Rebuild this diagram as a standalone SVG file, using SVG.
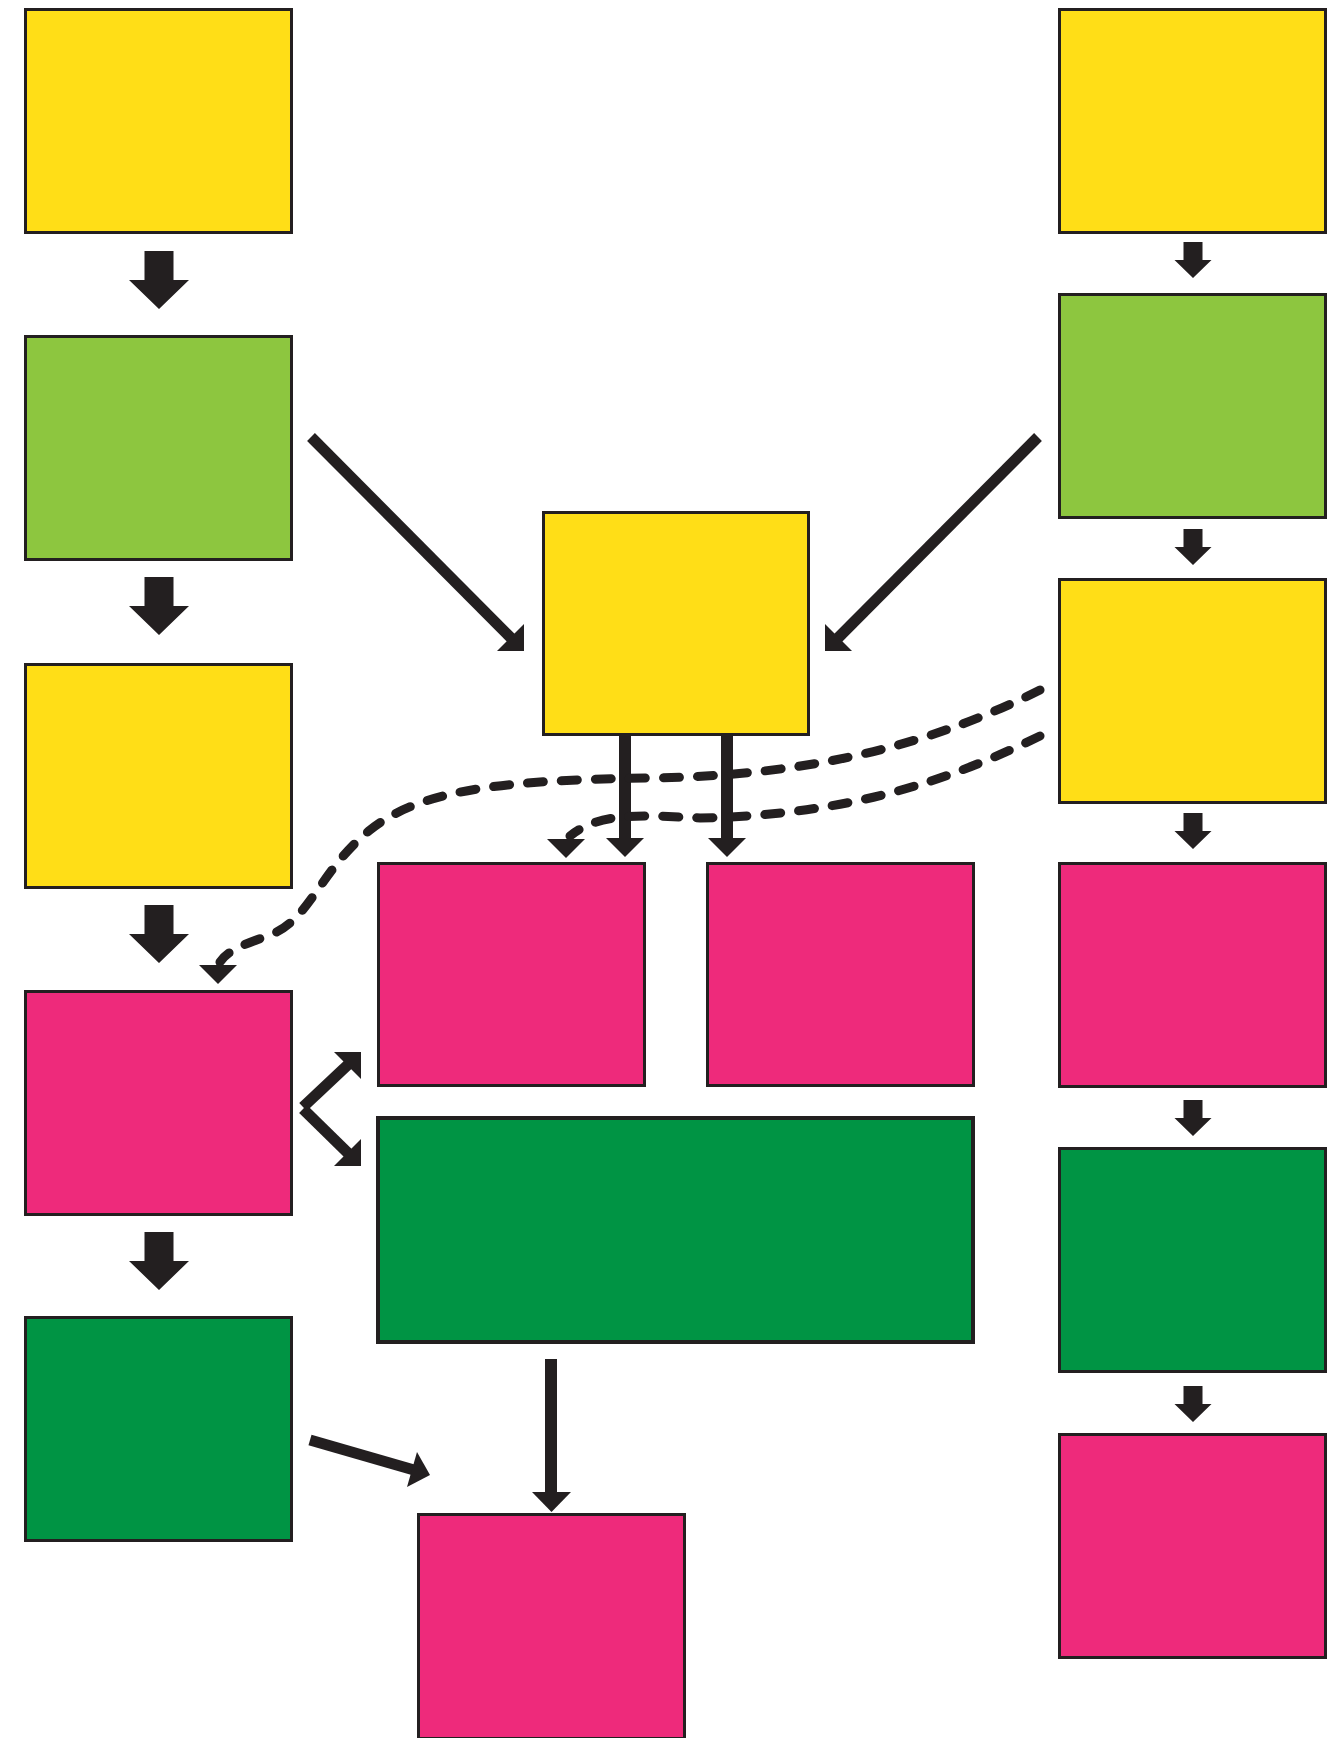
<svg xmlns="http://www.w3.org/2000/svg" xmlns:xlink="http://www.w3.org/1999/xlink" width="1343" height="1738" viewBox="0 0 1343 1738">
<style>
.box{stroke:#231F20;stroke-width:3}
.y{fill:#FFDE17}
.lg{fill:#8DC63F}
.p{fill:#EE2A7B}
.dg{fill:#009444}
.ar{fill:#231F20}
.ln{stroke:#231F20;fill:none}
.dash{stroke:#231F20;fill:none;stroke-width:9;stroke-linecap:round;stroke-dasharray:16 18}
</style>
<defs>
<polygon id="bigArrow" points="-14.5,0 14.5,0 14.5,29 30,29 0,58 -30,29 -14.5,29" fill="#231F20"/>
<polygon id="smallArrow" points="-9.5,0 9.5,0 9.5,18 18.5,18 0,36 -18.5,18 -9.5,18" fill="#231F20"/>
</defs>
<rect width="1343" height="1738" fill="#FFFFFF"/>
<g id="left-col">
<g id="L1"><rect class="box y" x="25.5" y="9.5" width="266" height="223"/></g>
<g id="L2"><rect class="box lg" x="25.5" y="336.5" width="266" height="223"/></g>
<g id="L3"><rect class="box y" x="25.5" y="664.5" width="266" height="223"/></g>
<g id="L4"><rect class="box p" x="25.5" y="991.5" width="266" height="223"/></g>
<g id="L5"><rect class="box dg" x="25.5" y="1317.5" width="266" height="223"/></g>
</g>
<g id="right-col">
<g id="R1"><rect class="box y" x="1059.5" y="9.5" width="266" height="223"/></g>
<g id="R2"><rect class="box lg" x="1059.5" y="294.5" width="266" height="223"/></g>
<g id="R3"><rect class="box y" x="1059.5" y="579.5" width="266" height="223"/></g>
<g id="R4"><rect class="box p" x="1059.5" y="863.5" width="266" height="223"/></g>
<g id="R5"><rect class="box dg" x="1059.5" y="1148.5" width="266" height="223"/></g>
<g id="R6"><rect class="box p" x="1059.5" y="1434.5" width="266" height="223"/></g>
</g>
<g id="center">
<g id="C1"><rect class="box y" x="543.5" y="512.5" width="265" height="222"/></g>
<g id="C2"><rect class="box p" x="378.5" y="863.5" width="266" height="222"/></g>
<g id="C3"><rect class="box p" x="707.5" y="863.5" width="266" height="222"/></g>
<g id="C4"><rect class="box dg" x="378" y="1118" width="595" height="224" style="stroke-width:4"/></g>
<g id="C5"><rect class="box p" x="418.5" y="1514.5" width="266" height="224"/></g>
</g>
<g id="connectors">
<use xlink:href="#bigArrow" x="159" y="251"/>
<use xlink:href="#bigArrow" x="159" y="577"/>
<use xlink:href="#bigArrow" x="159" y="905"/>
<use xlink:href="#bigArrow" x="159" y="1232"/>
<use xlink:href="#smallArrow" x="1193" y="242"/>
<use xlink:href="#smallArrow" x="1193" y="529"/>
<use xlink:href="#smallArrow" x="1193" y="813"/>
<use xlink:href="#smallArrow" x="1193" y="1100"/>
<use xlink:href="#smallArrow" x="1193" y="1386"/>
<line class="ln" x1="311" y1="437" x2="514" y2="641" stroke-width="11"/>
<polygon class="ar" points="524,651 524,624 497,651"/>
<line class="ln" x1="1038" y1="437" x2="835" y2="641" stroke-width="11"/>
<polygon class="ar" points="825,651 825,624 852,651"/>
<line class="ln" x1="625" y1="736" x2="625" y2="840" stroke-width="12"/>
<polygon class="ar" points="606,838 644,838 625,857"/>
<line class="ln" x1="727" y1="736" x2="727" y2="840" stroke-width="12"/>
<polygon class="ar" points="708,838 746,838 727,857"/>
<path class="dash" d="M1040,690 C940,740 820,776 650,778 C500,780 420,790 370,830 C320,870 310,920 270,935 C245,944 228,950 220,962"/>
<polygon class="ar" points="199,965 237,965 218,984"/>
<path class="dash" d="M1040,736 C950,780 850,815 700,818 C640,815 600,812 570,836"/>
<polygon class="ar" points="547,839 585,839 566,858"/>
<line class="ln" x1="303" y1="1107" x2="353" y2="1060" stroke-width="11"/>
<polygon class="ar" points="334,1052 361,1052 361,1079"/>
<line class="ln" x1="303" y1="1109" x2="353" y2="1158" stroke-width="11"/>
<polygon class="ar" points="361,1166 334,1166 361,1139"/>
<line class="ln" x1="551" y1="1359" x2="551" y2="1494" stroke-width="12"/>
<polygon class="ar" points="532,1492 571,1492 551.5,1512"/>
<line class="ln" x1="310" y1="1440" x2="414" y2="1470" stroke-width="11"/>
<polygon class="ar" points="430,1475 417,1452 407,1487"/>
</g>
</svg>
